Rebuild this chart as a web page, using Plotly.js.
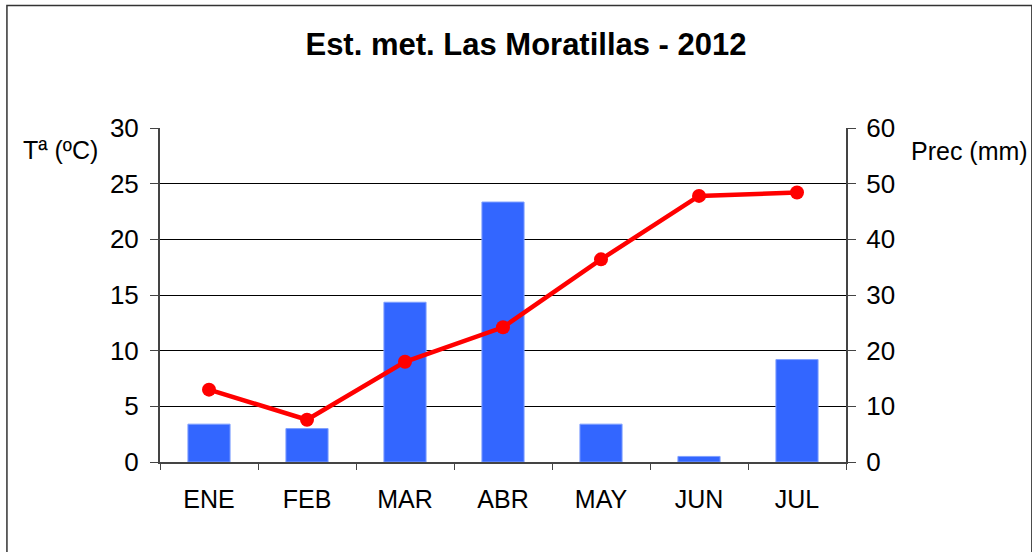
<!DOCTYPE html>
<html>
<head>
<meta charset="utf-8">
<script src="https://cdn.plot.ly/plotly-3.0.1.min.js"></script>
<style>
html,body{margin:0;padding:0;background:#fff;}
#chart{width:1032px;height:552px;}
</style>
</head>
<body>
<div id="chart"></div>
<script>
var months = ["ENE","FEB","MAR","ABR","MAY","JUN","JUL"];
var precipitation = [6.8, 6.0, 28.7, 46.7, 6.8, 1.0, 18.4];
var temperature = [6.5, 3.8, 9.0, 12.1, 18.2, 23.9, 24.2];
var leftTicks = [0,5,10,15,20,25,30];
var rightTicks = [0,10,20,30,40,50,60];

var W = 1032, H = 552;
var mL = 160, mR = W - 845.7, mT = 128, mB = H - 461.7;
var pw = W - mL - mR, ph = H - mT - mB;
function px(x){ return (x - mL) / pw; }
function py(y){ return (H - mB - y) / ph; }

var font = "Liberation Sans, Arial, sans-serif";

var traces = [
  {
    type: "bar",
    x: months,
    y: precipitation,
    yaxis: "y",
    marker: {color: "#3366ff", line: {color: "#7f9fff", width: 1}},
    width: 0.43,
    hoverinfo: "x+y"
  },
  {
    type: "scatter",
    mode: "lines+markers",
    x: months,
    y: temperature,
    yaxis: "y2",
    line: {color: "#ff0000", width: 4.5},
    marker: {color: "#ff0000", size: 14},
    hoverinfo: "x+y"
  }
];

var layout = {
  width: W, height: H,
  margin: {l: mL, r: mR, t: mT, b: mB, pad: 0},
  paper_bgcolor: "#ffffff",
  plot_bgcolor: "#ffffff",
  showlegend: false,
  title: {
    text: "<b>Est. met. Las Moratillas - 2012</b>",
    font: {family: font, size: 31, color: "#000"},
    x: 526 / W, xref: "container", xanchor: "center",
    y: 1 - 44/H, yanchor: "middle"
  },
  xaxis: {
    type: "category",
    categoryorder: "array",
    categoryarray: months,
    showline: true, linecolor: "#444", linewidth: 2,
    ticks: "outside", tickson: "boundaries", ticklen: 6, tickcolor: "#444", tickwidth: 1,
    ticklabelstandoff: 14,
    tickfont: {family: font, size: 25, color: "#000"},
    showgrid: false, zeroline: false,
    fixedrange: true
  },
  yaxis: {
    side: "right",
    range: [0, 60],
    tickvals: rightTicks,
    ticktext: rightTicks.map(String),
    showline: true, linecolor: "#444", linewidth: 2,
    ticks: "outside", ticklen: 8, tickcolor: "#444", tickwidth: 1,
    ticklabelstandoff: 5,
    tickfont: {family: font, size: 26, color: "#000"},
    showgrid: true, gridcolor: "#000", gridwidth: 1,
    zeroline: false,
    fixedrange: true
  },
  yaxis2: {
    overlaying: "y", side: "left",
    range: [0, 30],
    tickvals: leftTicks,
    ticktext: leftTicks.map(String),
    showline: true, linecolor: "#444", linewidth: 2,
    ticks: "outside", ticklen: 8, tickcolor: "#444", tickwidth: 1,
    ticklabelstandoff: 6,
    tickfont: {family: font, size: 26, color: "#000"},
    showgrid: false, zeroline: false,
    fixedrange: true
  },
  annotations: [
    {
      text: "Tª (ºC)", xref: "paper", yref: "paper",
      x: px(21), y: py(150), xanchor: "left", yanchor: "middle",
      showarrow: false, font: {family: font, size: 25, color: "#000"}
    },
    {
      text: "Prec (mm)", xref: "paper", yref: "paper",
      x: px(909), y: py(151), xanchor: "left", yanchor: "middle",
      showarrow: false, font: {family: font, size: 25, color: "#000"}
    }
  ],
  shapes: [
    {
      type: "rect", xref: "paper", yref: "paper",
      x0: px(7), x1: px(1031.5), y0: py(5.5), y1: py(600),
      line: {color: "#333", width: 1.5}, fillcolor: "rgba(0,0,0,0)", layer: "below"
    }
  ]
};

Plotly.newPlot("chart", traces, layout, {staticPlot: true, displayModeBar: false});
</script>
</body>
</html>
